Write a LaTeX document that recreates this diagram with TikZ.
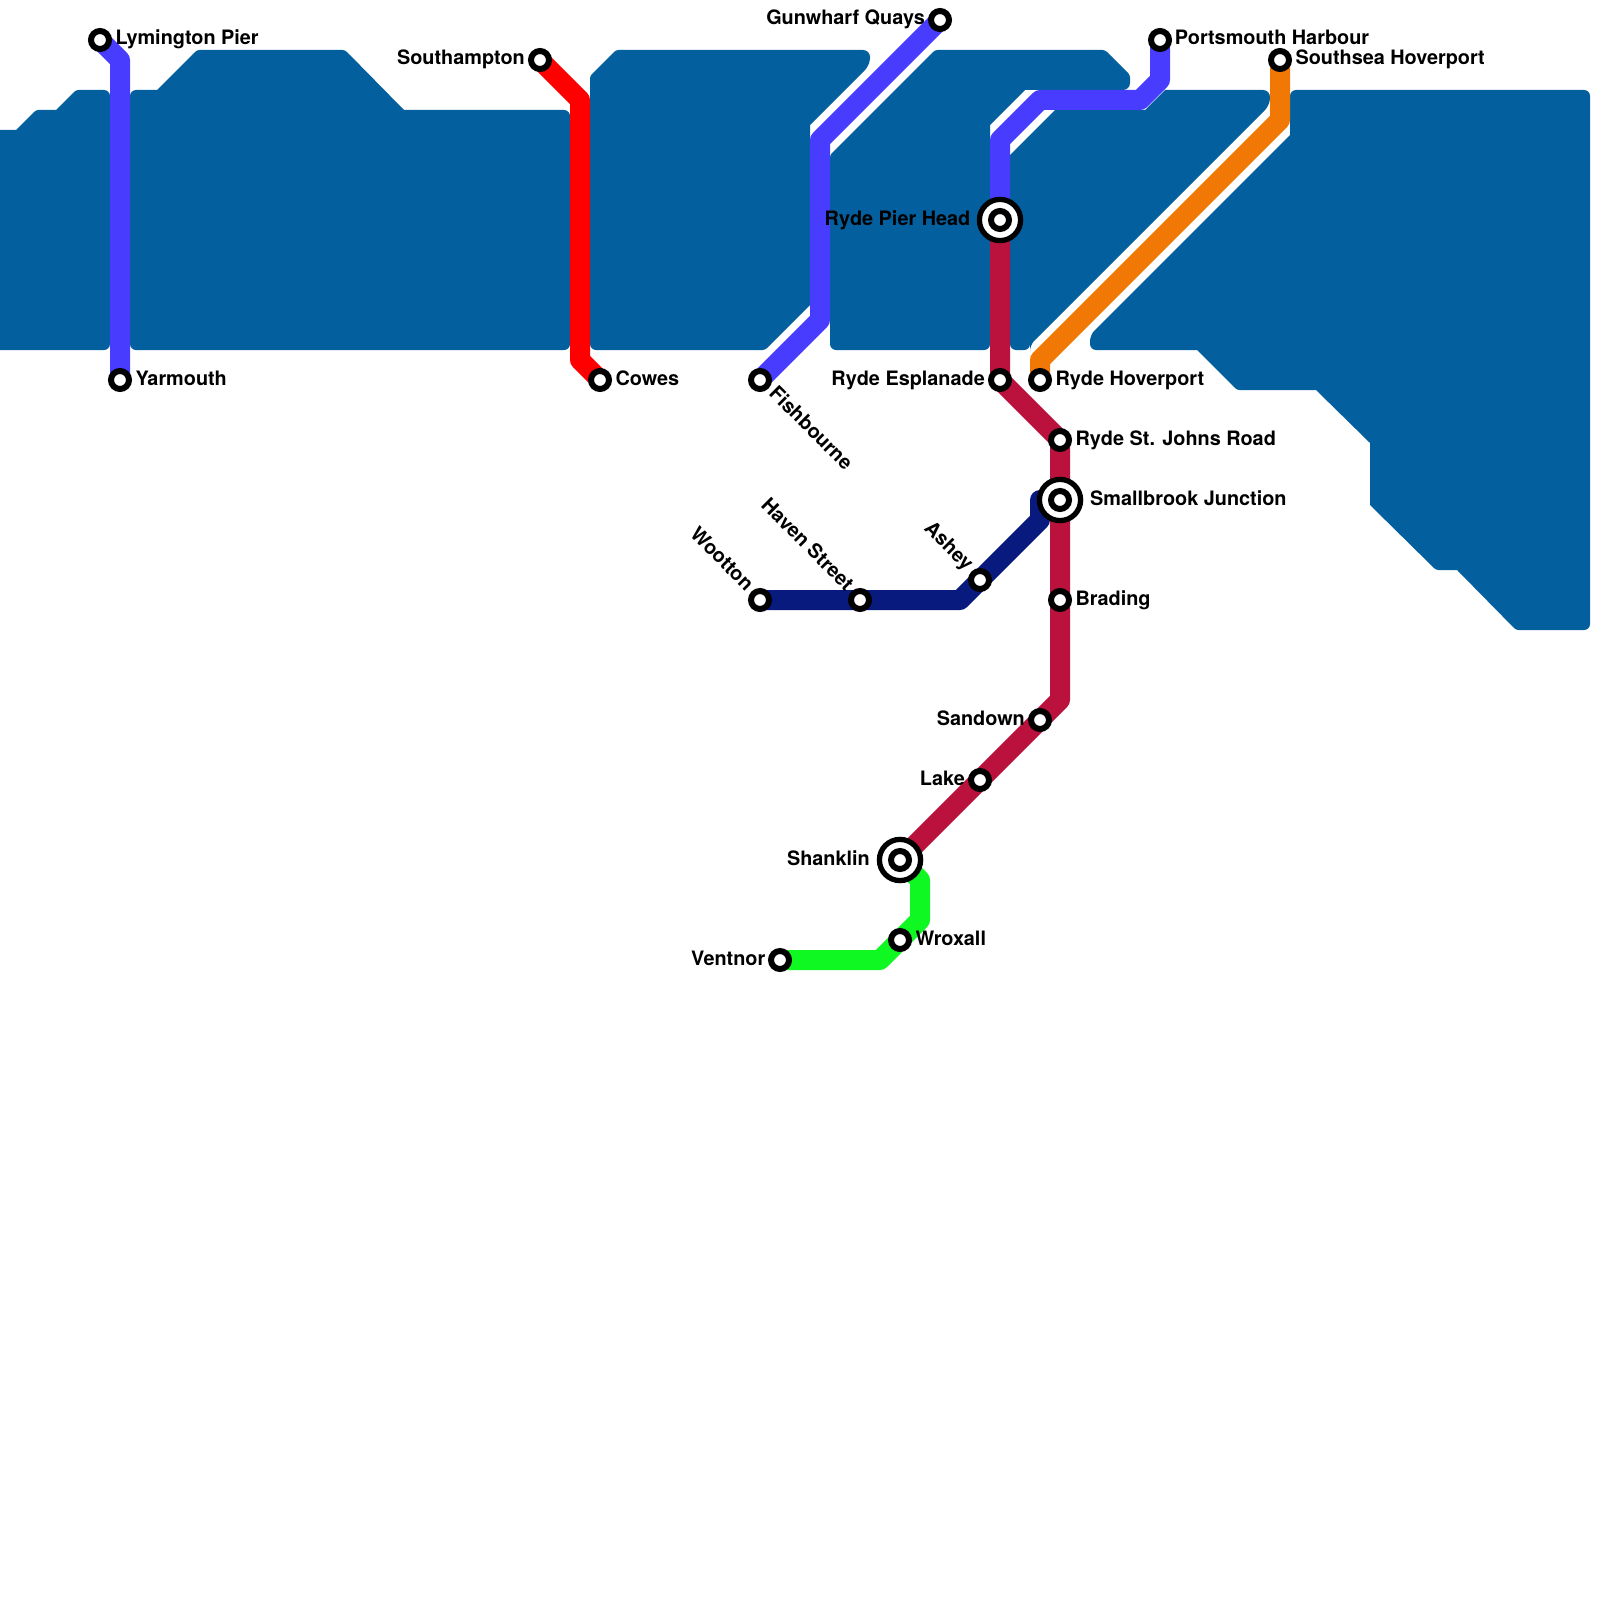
\documentclass[tikz,border=0pt]{standalone}
\usepackage{fontspec}
\setmainfont{TeX Gyre Heros}
\pgfdeclarelayer{water}
\pgfdeclarelayer{lines}
\pgfsetlayers{water,lines,main}
\definecolor{watercol}{HTML}{045F9E}
\definecolor{bluecol}{HTML}{483DFF}
\definecolor{redcol}{HTML}{FF0000}
\definecolor{crimsoncol}{HTML}{BA123C}
\definecolor{navycol}{HTML}{081A7E}
\definecolor{orangecol}{HTML}{F17805}
\definecolor{greencol}{HTML}{0FF822}
\tikzset{
  stn/.style={circle,draw=black,fill=white,line width=6pt,minimum size=18pt,inner sep=0pt},
  hub/.style={circle,draw=black,fill=white,line width=5.3pt,minimum size=41.2pt,inner sep=0pt},
  lab/.style={inner sep=0pt,font=\fontsize{19.85pt}{22pt}\selectfont\bfseries,text=black},
  labr/.style={lab,anchor=base west},
  labl/.style={lab,anchor=base east},
  railline/.style={line width=20pt,line join=round,line cap=butt},
  waterfill/.style={fill=watercol,draw=none},
  rl/.style={rounded corners=6pt},
  rm/.style={rounded corners=7pt},
  rs/.style={rounded corners=2.5pt},
  sc/.style={sharp corners},
}
\begin{document}
\begin{tikzpicture}[x=1pt,y=-1pt]
\useasboundingbox (0,0) rectangle (1600,1600);
% water
\begin{pgfonlayer}{water}
\fill[waterfill] (-20,240) [sc] -- (-20,130) [sc] -- (16,130) [rs] -- (36,110) [sc] -- (56,110) [rs] -- (76,90) [rl] -- (110,90) [rl] -- (110,350) [sc] -- (-20,350) -- cycle;
\fill[waterfill] (300,50) [rs] -- (345,50) [sc] -- (404,110) [rl] -- (570,110) [rl] -- (570,350) [rl] -- (130,350) [rl] -- (130,90) [sc] -- (157,90) [rs] -- (197,50) -- cycle;
\fill[waterfill] (700,50) [rm] -- (870,50) [rm] -- (870,65) [sc] -- (810,125) [sc] -- (810,305) [rs] -- (765,350) [rl] -- (590,350) [rs] -- (590,76) [rs] -- (616,50) -- cycle;
\fill[waterfill] (1000,50) [rs] -- (1105,50) [rs] -- (1130,75) [rm] -- (1130,90) [sc] -- (1025,90) [sc] -- (990,125) [rl] -- (990,350) [rl] -- (830,350) [rs] -- (830,155) [rs] -- (935,50) -- cycle;
\fill[waterfill] (1200,90) [rm] -- (1270,90) [rm] -- (1270,105) [rl] -- (1030,345) [rl] -- (1030,350) [rl] -- (1010,350) [sc] -- (1010,155) [sc] -- (1055,110) [sc] -- (1145,110) [sc] -- (1165,90) -- cycle;
\fill[waterfill] (1400,90) [rl] -- (1590,90) [rl] -- (1590,630) [rs] -- (1516,630) [sc] -- (1457,570) [rs] -- (1436,570) [sc] -- (1370,505) [sc] -- (1370,443) [sc] -- (1316,390) [rs] -- (1237,390) [sc] -- (1197,350) [rl] -- (1090,350) [rl] -- (1090,335) [sc] -- (1290,135) [rl] -- (1290,90) -- cycle;
\end{pgfonlayer}
% stations
\node[stn] (lym) at (100,40) {};
\node[stn] (yar) at (120,380) {};
\node[stn] (sou) at (540,60) {};
\node[stn] (cow) at (600,380) {};
\node[stn] (gun) at (940,20) {};
\node[stn] (fis) at (760,380) {};
\node[stn] (por) at (1160,40) {};
\node[stn] (ssh) at (1280,60) {};
\node[stn] (rho) at (1040,380) {};
\node[hub] (pier) at (1000,220) {};
\node[stn] (pierc) at (1000,220) {};
\node[stn] (esp) at (1000,380) {};
\node[stn] (stj) at (1060,440) {};
\node[hub] (sma) at (1060,500) {};
\node[stn] (smac) at (1060,500) {};
\node[stn] (bra) at (1060,600) {};
\node[stn] (san) at (1040,720) {};
\node[stn] (lak) at (980,780) {};
\node[hub] (sha) at (900,860) {};
\node[stn] (shac) at (900,860) {};
\node[stn] (wro) at (900,940) {};
\node[stn] (ven) at (780,960) {};
\node[stn] (woo) at (760,600) {};
\node[stn] (hav) at (860,600) {};
\node[stn] (ash) at (980,580) {};
% bends
\coordinate (b1) at (120,60);
\coordinate (b2) at (580,100);
\coordinate (b3) at (580,360);
\coordinate (b4) at (820,140);
\coordinate (b5) at (820,320);
\coordinate (b6) at (1000,140);
\coordinate (b7) at (1040,100);
\coordinate (b8) at (1140,100);
\coordinate (b9) at (1160,80);
\coordinate (b10) at (1280,120);
\coordinate (b11) at (1040,360);
\coordinate (b12) at (1060,700);
\coordinate (b13) at (920,880);
\coordinate (b14) at (920,920);
\coordinate (b15) at (880,960);
\coordinate (b16) at (960,600);
\coordinate (b17) at (1040,520);
\coordinate (b18) at (1040,500);
% lines
\begin{pgfonlayer}{lines}
\draw[railline,navycol] (woo.center) -- (hav.center) -- (b16) -- (ash.center) -- (b17) -- (b18) -- (smac.center);
\draw[railline,bluecol] (lym.center) -- (b1) -- (yar.center);
\draw[railline,redcol] (sou.center) -- (b2) -- (b3) -- (cow.center);
\draw[railline,bluecol] (gun.center) -- (b4) -- (b5) -- (fis.center);
\draw[railline,bluecol] (pierc.center) -- (b6) -- (b7) -- (b8) -- (b9) -- (por.center);
\draw[railline,orangecol] (ssh.center) -- (b10) -- (b11) -- (rho.center);
\draw[railline,crimsoncol] (pierc.center) -- (esp.center) -- (stj.center) -- (smac.center) -- (bra.center) -- (b12) -- (san.center) -- (lak.center) -- (shac.center);
\draw[railline,greencol] (shac.center) -- (b13) -- (b14) -- (wro.center) -- (b15) -- (ven.center);
\end{pgfonlayer}
% labels
\node[labr] (llym) at (115.3,45) {Lymington Pier};
\node[labr] (lyar) at (135.3,385) {Yarmouth};
\node[labl] (lsou) at (525,65) {Southampton};
\node[labr] (lcow) at (615.3,385) {Cowes};
\node[labl] (lgun) at (925,25) {Gunwharf Quays};
\node[labl] (lpier) at (970.5,225) {Ryde Pier Head};
\node[labl] (lesp) at (985,385) {Ryde Esplanade};
\node[labr] (lrho) at (1055.3,385) {Ryde Hoverport};
\node[labr] (lpor) at (1174.7,45) {Portsmouth Harbour};
\node[labr] (lssh) at (1295.3,65) {Southsea Hoverport};
\node[labr] (lstj) at (1075.3,445) {Ryde St. Johns Road};
\node[labr] (lsma) at (1090,505) {Smallbrook Junction};
\node[labr] (lbra) at (1075.3,605) {Brading};
\node[labl] (lsan) at (1025,725) {Sandown};
\node[labl] (llak) at (965,785) {Lake};
\node[labl] (lsha) at (870,865) {Shanklin};
\node[labr] (lwro) at (915.3,945) {Wroxall};
\node[labl] (lven) at (765.5,965) {Ventnor};
\node[labr,rotate=-45] (lfis) at (768,394.5) {Fishbourne};
\node[labl,rotate=-45] (lwoo) at (745.5,591.9) {Wootton};
\node[labl,rotate=-45] (lhav) at (845.5,591.9) {Haven Street};
\node[labl,rotate=-45] (lash) at (965.5,571.9) {Ashey};
\end{tikzpicture}
\end{document}
